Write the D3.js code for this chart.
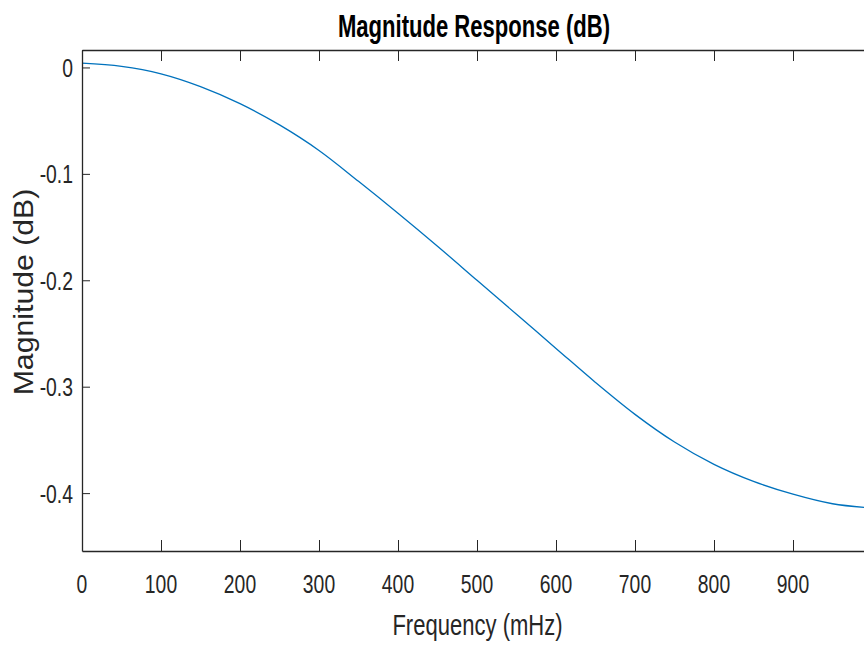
<!DOCTYPE html>
<html>
<head>
<meta charset="utf-8">
<script src="https://cdn.jsdelivr.net/npm/d3@7"></script>
<style>
  html, body { margin: 0; padding: 0; background: #fff; }
  svg { display: block; }
  text { font-family: "Liberation Sans", Arial, sans-serif; fill: #262626; }
</style>
</head>
<body>
<svg id="chart" width="864" height="648"></svg>
<script>
// Data
const freq = [0, 50, 100, 150, 200, 250, 300, 350, 400, 450, 500, 550, 600, 650, 700, 750, 800, 850, 900, 950, 1000];
const magnitude = [0.004, 0.001, -0.006, -0.018, -0.034, -0.054, -0.078, -0.107, -0.137, -0.168, -0.200, -0.232, -0.264, -0.296, -0.326, -0.352, -0.373, -0.389, -0.401, -0.410, -0.414];
const xTicks = [0, 100, 200, 300, 400, 500, 600, 700, 800, 900, 1000];
const xTickLabels = ["0", "100", "200", "300", "400", "500", "600", "700", "800", "900"];
const yTicks = [0, -0.1, -0.2, -0.3, -0.4];
const yTickLabels = ["0", "-0.1", "-0.2", "-0.3", "-0.4"];
const xDomain = [0, 1000];
const yDomain = [-0.4544, 0.0164];
const titleText = "Magnitude Response (dB)";
const xLabelText = "Frequency (mHz)";
const yLabelText = "Magnitude (dB)";

const mLeft = 82, mRight = 872, mTop = 50, mBottom = 551;
const axisColor = "#262626";
const lineColor = "#0072BD";

const svg = d3.select("#chart");
const x = d3.scaleLinear().domain(xDomain).range([mLeft, mRight]);
const y = d3.scaleLinear().domain(yDomain).range([mBottom, mTop]);

// Line
const line = d3.line().x((d, i) => x(freq[i])).y(d => y(d)).curve(d3.curveMonotoneX);
svg.append("path")
  .datum(magnitude)
  .attr("d", line)
  .attr("fill", "none")
  .attr("stroke", lineColor)
  .attr("stroke-width", 1.3);

// Axes (ticks inward)
const xt = 11, yt = 8;
const bottomAxis = d3.axisBottom(x).tickValues(xTicks).tickSizeInner(-xt).tickSizeOuter(0).tickFormat("");
const topAxis = d3.axisTop(x).tickValues(xTicks).tickSizeInner(-xt).tickSizeOuter(0).tickFormat("");
const leftAxis = d3.axisLeft(y).tickValues(yTicks).tickSizeInner(-yt).tickSizeOuter(0).tickFormat("");
const rightAxis = d3.axisRight(y).tickValues(yTicks).tickSizeInner(-yt).tickSizeOuter(0).tickFormat("");

function style(g) {
  g.selectAll("path.domain").attr("stroke", axisColor).attr("stroke-width", 1.3);
  g.selectAll(".tick line").attr("stroke", axisColor).attr("stroke-width", 1);
}
svg.append("g").attr("transform", `translate(0,${mBottom})`).call(bottomAxis).call(style);
svg.append("g").attr("transform", `translate(0,${mTop})`).call(topAxis).call(style);
svg.append("g").attr("transform", `translate(${mLeft},0)`).call(leftAxis).call(style);
svg.append("g").attr("transform", `translate(${mRight},0)`).call(rightAxis).call(style);

// Tick labels (narrow, as in the reference)
const tickFont = 26.5, tickScale = 0.73;
xTickLabels.forEach((t, i) => {
  svg.append("text")
    .attr("transform", `translate(${x(xTicks[i])},593) scale(${tickScale},1)`)
    .attr("text-anchor", "middle")
    .attr("font-size", tickFont)
    .text(t);
});
yTickLabels.forEach((t, i) => {
  svg.append("text")
    .attr("transform", `translate(73,${y(yTicks[i]) + 9.5}) scale(${tickScale},1)`)
    .attr("text-anchor", "end")
    .attr("font-size", tickFont)
    .text(t);
});

// Title
svg.append("text")
  .attr("transform", `translate(${(mLeft + mRight) / 2 - 3},37) scale(0.69,1)`)
  .attr("text-anchor", "middle")
  .attr("font-size", 32)
  .attr("font-weight", "bold")
  .style("fill", "#000")
  .text(titleText);

// X label
svg.append("text")
  .attr("transform", `translate(477.5,635) scale(0.76,1)`)
  .attr("text-anchor", "middle")
  .attr("font-size", 29)
  .text(xLabelText);

// Y label
svg.append("text")
  .attr("transform", `translate(33,292) rotate(-90) scale(1.12,1)`)
  .attr("text-anchor", "middle")
  .attr("font-size", 27)
  .text(yLabelText);
</script>
</body>
</html>
